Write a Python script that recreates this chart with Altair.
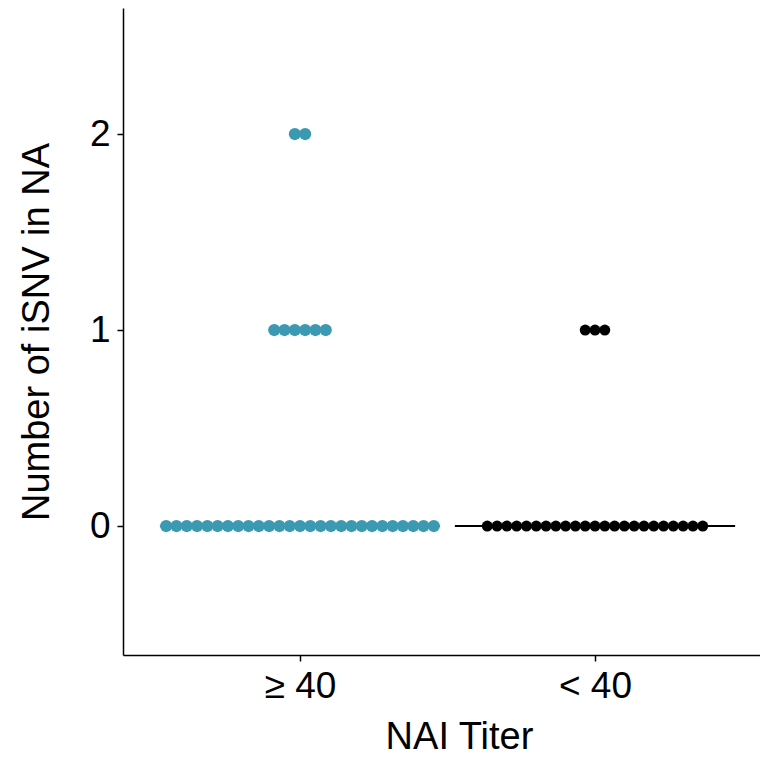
import altair as alt
import pandas as pd

# ---- data ----
groups = ["≥ 40", "< 40"]
isnv_values = [0, 1, 2]
count_ge40 = [27, 6, 2]   # number of samples with 0, 1, 2 iSNVs (titer >= 40)
count_lt40 = [23, 3, 0]   # number of samples with 0, 1, 2 iSNVs (titer < 40)
medians = [0, 0]
colors = ["#3B9AB2", "#000000"]

rows = []
for gi, (g, counts) in enumerate(zip(groups, [count_ge40, count_lt40])):
    for v, c in zip(isnv_values, counts):
        for _ in range(c):
            rows.append({"group": g, "gidx": gi, "isnv": v})
df = pd.DataFrame(rows)
df_med = pd.DataFrame({"group": groups, "gidx": [0, 1], "median": medians})

FONT = "Liberation Sans"
W, H = 637, 647

xscale = alt.Scale(domain=[-0.6, W / 295 - 0.6], nice=False, zero=False)
yscale = alt.Scale(domain=[-0.658, 2.643], nice=False, zero=False)

xaxis = alt.Axis(
    values=[0, 1],
    labelExpr="datum.value == 0 ? '≥ 40' : '< 40'",
    title="NAI Titer",
    grid=False,
    domainColor="black", domainWidth=1.5,
    tickColor="black", tickWidth=1.5, tickSize=6,
    labelFont=FONT, labelFontSize=37, labelColor="black",
    labelBaseline="alphabetic", labelPadding=36,
    titleFont=FONT, titleFontSize=38, titleFontWeight="normal", titleColor="black",
    titleBaseline="alphabetic", titleX=336, titleY=93,
    titleAlign="center",
)
yaxis = alt.Axis(
    values=[0, 1, 2],
    format="d",
    title="Number of iSNV in NA",
    grid=False,
    domainColor="black", domainWidth=1.5,
    tickColor="black", tickWidth=1.5, tickSize=6,
    labelFont=FONT, labelFontSize=37, labelColor="black", labelPadding=7,
    titleFont=FONT, titleFontSize=38, titleFontWeight="normal", titleColor="black",
    titleBaseline="alphabetic", titleX=-75, titleY=H / 2, titleAngle=-90,
    titleAlign="center",
)

color = alt.Color("group:N", scale=alt.Scale(domain=groups, range=colors), legend=None)

rule = alt.Chart(df_med).transform_calculate(
    x1="datum.gidx - 0.475", x2="datum.gidx + 0.475"
).mark_rule(strokeWidth=2).encode(
    x=alt.X("x1:Q", scale=xscale, axis=xaxis),
    x2="x2:Q",
    y=alt.Y("median:Q", scale=yscale, axis=yaxis),
    color=color,
)

points = alt.Chart(df).transform_window(
    rank="row_number()", groupby=["group", "isnv"]
).transform_joinaggregate(
    n="count()", groupby=["group", "isnv"]
).transform_calculate(
    xpos="datum.gidx + (datum.rank - (datum.n + 1) / 2) * (datum.gidx == 0 ? 0.0349 : 0.0332)"
).mark_circle(opacity=1).encode(
    x=alt.X("xpos:Q", scale=xscale, axis=xaxis),
    y=alt.Y("isnv:Q", scale=yscale, axis=yaxis),
    color=color,
    size=alt.Size("group:N", scale=alt.Scale(domain=groups, range=[150, 120]), legend=None),
)

chart = alt.layer(rule, points).properties(
    width=W, height=H,
    padding={"left": 115, "top": 0, "right": 0, "bottom": 103},
    autosize="none",
).configure_view(stroke=None)

chart.save("out.html", embed_options={"renderer": "svg", "actions": False})
